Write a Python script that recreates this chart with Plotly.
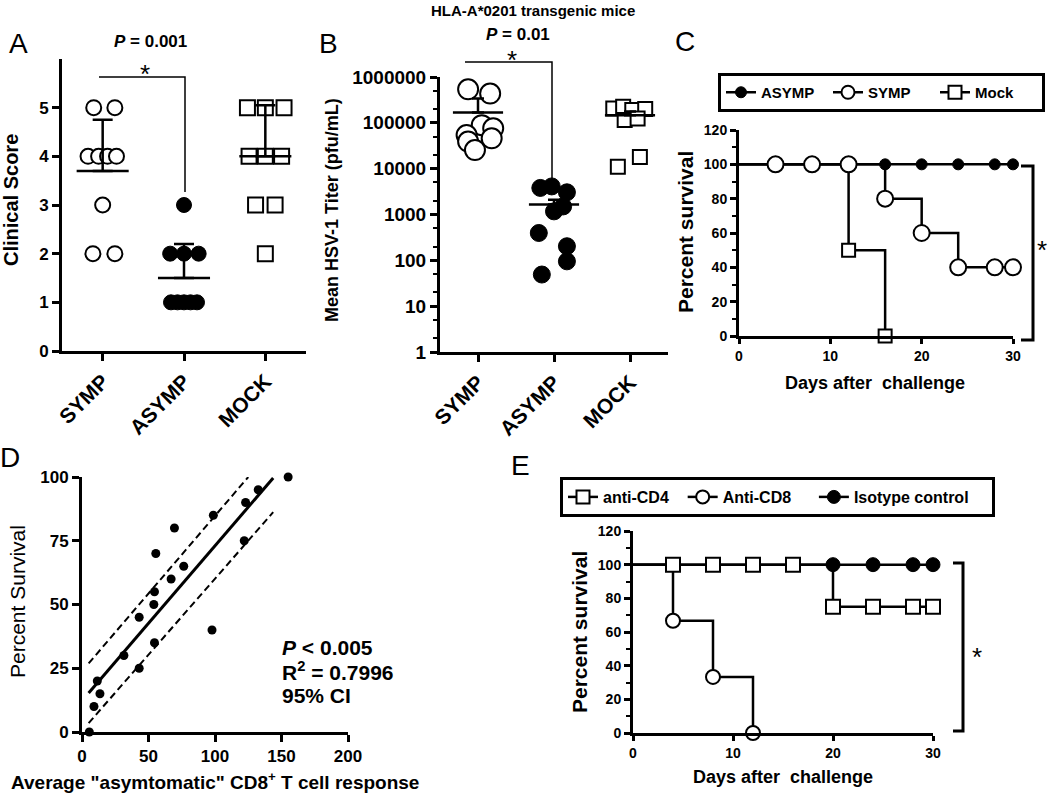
import plotly.graph_objects as go

FONT = "Liberation Sans, Arial, Helvetica, sans-serif"
W, H = 1050, 794

# ---------------- Panel A : clinical score ----------------
a_categories = ["SYMP", "ASYMP", "MOCK"]
a_symp_score = [5, 5, 4, 4, 4, 4, 3, 2, 2]
a_asymp_score = [3, 2, 2, 2, 1, 1, 1, 1, 1]
a_mock_score = [5, 5, 5, 4, 4, 4, 3, 3, 2]
a_mean = [3.7, 1.5, 4.0]
a_err_upper = [1.05, 0.7, 1.05]
a_yticks = [0, 1, 2, 3, 4, 5]

# ---------------- Panel B : HSV-1 titer ----------------
b_categories = ["SYMP", "ASYMP", "MOCK"]
b_symp_titer = [540000, 435000, 89000, 76000, 54000, 46000, 39000, 25500]
b_asymp_titer = [3800, 4100, 3050, 1500, 1170, 395, 203, 95, 49]
b_mock_titer = [205000, 225000, 190000, 200000, 115000, 125000, 11000, 18000]
b_mean = [168000, 1650, 147000]
b_err_upper = [172000, 450, 30000]
b_yticks = [1, 10, 100, 1000, 10000, 100000, 1000000]
b_yticktext = ["1", "10", "100", "1000", "10000", "100000", "1000000"]

# ---------------- Panel C : survival ----------------
c_asymp_curve_day = [0, 30]
c_asymp_curve_pct = [100, 100]
c_asymp_mark_day = [16, 20, 24, 28, 30]
c_asymp_mark_pct = [100, 100, 100, 100, 100]
c_symp_curve_day = [0, 16, 20, 24, 30]
c_symp_curve_pct = [100, 80, 60, 40, 40]
c_symp_mark_day = [4, 8, 12, 16, 20, 24, 28, 30]
c_symp_mark_pct = [100, 100, 100, 80, 60, 40, 40, 40]
c_mock_curve_day = [0, 12, 16]
c_mock_curve_pct = [100, 50, 0]
c_mock_mark_day = [12, 16]
c_mock_mark_pct = [50, 0]

# ---------------- Panel D : correlation ----------------
d_response = [155, 132.5, 123, 98.75, 69.5, 122, 55.5, 76.5, 67, 54.5,
              54, 43, 97.75, 54.5, 31.5, 43, 11.5, 13.5, 9, 5.5]
d_survival = [100, 95, 90, 85, 80, 75, 70, 65, 60, 55,
              50, 45, 40, 35, 30, 25, 20, 15, 10, 0]
d_fit_x = [5, 143.75]
d_fit_y = [15.3, 99.6]
d_ci_upper_x = [5, 125]
d_ci_upper_y = [26.9, 100]
d_ci_lower_x = [5, 143.75]
d_ci_lower_y = [3.5, 86.2]

# ---------------- Panel E : depletion survival ----------------
e_cd4_curve_day = [0, 20, 30]
e_cd4_curve_pct = [100, 75, 75]
e_cd4_mark_day = [4, 8, 12, 16, 20, 24, 28, 30]
e_cd4_mark_pct = [100, 100, 100, 100, 75, 75, 75, 75]
e_cd8_curve_day = [0, 4, 8, 12]
e_cd8_curve_pct = [100, 66.7, 33.3, 0]
e_cd8_mark_day = [4, 8, 12]
e_cd8_mark_pct = [66.7, 33.3, 0]
e_iso_curve_day = [0, 30]
e_iso_curve_pct = [100, 100]
e_iso_mark_day = [20, 24, 28, 30]
e_iso_mark_pct = [100, 100, 100, 100]

# jitter offsets (category units) used to spread the dot-plot points
a_symp_jit = [-0.11, 0.15, -0.18, -0.05, 0.06, 0.17, 0.0, -0.12, 0.15]
a_asymp_jit = [0.0, -0.17, 0.0, 0.18, -0.16, -0.08, 0.0, 0.08, 0.16]
a_mock_jit = [-0.22, 0.0, 0.23, -0.2, 0.0, 0.2, -0.12, 0.12, 0.0]
b_symp_jit = [-0.13, 0.16, 0.05, 0.2, -0.15, 0.18, -0.13, -0.04]
b_asymp_jit = [-0.18, -0.03, 0.17, 0.12, 0.0, -0.2, 0.17, 0.17, -0.16]
b_mock_jit = [-0.22, -0.09, 0.03, 0.2, -0.07, 0.1, -0.16, 0.13]

NB = "\u00a0"


def px(x):
    return x / W


def py(y):
    return 1 - y / H


fig = go.Figure()

OPEN = dict(color="white", line=dict(color="black", width=2))
FILLED = dict(color="black", line=dict(color="black", width=1))


def strip(xa, ya, idx, vals, jit, symbol, style, size):
    fig.add_trace(go.Scatter(
        x=[idx + j for j in jit], y=vals, mode="markers", xaxis=xa, yaxis=ya,
        marker=dict(symbol=symbol, size=size, **style), showlegend=False,
        cliponaxis=False, hoverinfo="skip"))


def mean_err(xa, ya, means, errs, hw, cap):
    for i, (m, e) in enumerate(zip(means, errs)):
        fig.add_trace(go.Scatter(
            x=[i - hw, i + hw], y=[m, m], mode="lines", xaxis=xa, yaxis=ya,
            line=dict(color="black", width=2.5), showlegend=False,
            cliponaxis=False, hoverinfo="skip"))
        fig.add_trace(go.Scatter(
            x=[i], y=[m], mode="markers", xaxis=xa, yaxis=ya,
            marker=dict(size=1, color="rgba(0,0,0,0)"),
            error_y=dict(type="data", symmetric=False, array=[e], arrayminus=[0],
                         color="black", thickness=2.5, width=cap),
            showlegend=False, cliponaxis=False, hoverinfo="skip"))


# Panel A
strip("x", "y", 0, a_symp_score, a_symp_jit, "circle", OPEN, 15)
strip("x", "y", 1, a_asymp_score, a_asymp_jit, "circle", FILLED, 15)
strip("x", "y", 2, a_mock_score, a_mock_jit, "square", OPEN, 15)
mean_err("x", "y", a_mean, a_err_upper, 0.32, 10)

# Panel B
strip("x2", "y2", 0, b_symp_titer, b_symp_jit, "circle", OPEN, 20)
strip("x2", "y2", 1, b_asymp_titer, b_asymp_jit, "circle", FILLED, 17)
strip("x2", "y2", 2, b_mock_titer, b_mock_jit, "square", OPEN, 14)
mean_err("x2", "y2", b_mean, b_err_upper, 0.33, 6)


def curve(xa, ya, d, p):
    fig.add_trace(go.Scatter(
        x=d, y=p, mode="lines", xaxis=xa, yaxis=ya,
        line=dict(shape="hv", color="black", width=2.5),
        showlegend=False, cliponaxis=False, hoverinfo="skip"))


def marks(xa, ya, d, p, symbol, style, size):
    fig.add_trace(go.Scatter(
        x=d, y=p, mode="markers", xaxis=xa, yaxis=ya,
        marker=dict(symbol=symbol, size=size, **style),
        showlegend=False, cliponaxis=False, hoverinfo="skip"))


def legend_entry(xa, ya, name, symbol, style, size, leg):
    fig.add_trace(go.Scatter(
        x=[None], y=[None], mode="lines+markers", name=name, xaxis=xa, yaxis=ya,
        marker=dict(symbol=symbol, size=size, **style),
        line=dict(color="black", width=2.5), legend=leg, hoverinfo="skip"))


# Panel C
curve("x3", "y3", c_mock_curve_day, c_mock_curve_pct)
curve("x3", "y3", c_symp_curve_day, c_symp_curve_pct)
curve("x3", "y3", c_asymp_curve_day, c_asymp_curve_pct)
marks("x3", "y3", c_mock_mark_day, c_mock_mark_pct, "square", OPEN, 13)
marks("x3", "y3", c_symp_mark_day, c_symp_mark_pct, "circle", OPEN, 16)
marks("x3", "y3", c_asymp_mark_day, c_asymp_mark_pct, "circle", FILLED, 11)
legend_entry("x3", "y3", "ASYMP", "circle", FILLED, 11, "legend")
legend_entry("x3", "y3", "SYMP", "circle", OPEN, 13, "legend")
legend_entry("x3", "y3", "Mock", "square", OPEN, 13, "legend")

# Panel D
fig.add_trace(go.Scatter(x=d_ci_upper_x, y=d_ci_upper_y, mode="lines", xaxis="x4", yaxis="y4",
                         line=dict(color="black", width=2, dash="7px,4px"), showlegend=False,
                         cliponaxis=False, hoverinfo="skip"))
fig.add_trace(go.Scatter(x=d_ci_lower_x, y=d_ci_lower_y, mode="lines", xaxis="x4", yaxis="y4",
                         line=dict(color="black", width=2, dash="7px,4px"), showlegend=False,
                         cliponaxis=False, hoverinfo="skip"))
fig.add_trace(go.Scatter(x=d_fit_x, y=d_fit_y, mode="lines", xaxis="x4", yaxis="y4",
                         line=dict(color="black", width=3), showlegend=False,
                         cliponaxis=False, hoverinfo="skip"))
fig.add_trace(go.Scatter(x=d_response, y=d_survival, mode="markers", xaxis="x4", yaxis="y4",
                         marker=dict(size=9, color="black"), showlegend=False,
                         cliponaxis=False, hoverinfo="skip"))

# Panel E
curve("x5", "y5", e_cd8_curve_day, e_cd8_curve_pct)
curve("x5", "y5", e_cd4_curve_day, e_cd4_curve_pct)
curve("x5", "y5", e_iso_curve_day, e_iso_curve_pct)
marks("x5", "y5", e_cd8_mark_day, e_cd8_mark_pct, "circle", OPEN, 14)
marks("x5", "y5", e_cd4_mark_day, e_cd4_mark_pct, "square", OPEN, 14)
marks("x5", "y5", e_iso_mark_day, e_iso_mark_pct, "circle", FILLED, 14)
legend_entry("x5", "y5", "anti-CD4" + NB * 2, "square", OPEN, 13, "legend2")
legend_entry("x5", "y5", "Anti-CD8" + NB * 4, "circle", OPEN, 13, "legend2")
legend_entry("x5", "y5", "Isotype control" + NB * 4, "circle", FILLED, 13, "legend2")


def ax(**kw):
    d = dict(showline=True, linecolor="black", linewidth=3, ticks="outside",
             tickcolor="black", tickwidth=2.5, ticklen=7, showgrid=False,
             zeroline=False, fixedrange=True, automargin=False,
             tickfont=dict(family=FONT, size=16, color="black", weight="bold"))
    tf = kw.pop("tfsize", None)
    if tf:
        d["tickfont"] = dict(family=FONT, size=tf, color="black", weight="bold")
    d.update(kw)
    return d


def minor_lin(dt):
    return dict(ticks="outside", dtick=dt, ticklen=4, tickwidth=2, tickcolor="black", showgrid=False)


fig.update_layout(
    width=W, height=H, margin=dict(l=0, r=0, t=0, b=0, autoexpand=False),
    paper_bgcolor="white", plot_bgcolor="white",
    font=dict(family=FONT, color="black"),
    xaxis=ax(domain=[px(62), px(306)], range=[-0.5, 2.5], tickvals=[0, 1, 2],
             ticktext=a_categories, tickangle=-45, anchor="y", tfsize=21),
    yaxis=ax(domain=[py(351), py(59)], range=[0, 6], tickvals=a_yticks, anchor="x", tfsize=17),
    xaxis2=ax(domain=[px(440), px(668)], range=[-0.5, 2.5], tickvals=[0, 1, 2],
              ticktext=b_categories, tickangle=-45, anchor="y2", tfsize=21),
    yaxis2=ax(domain=[py(352), py(77)], type="log", range=[0, 6], tickvals=b_yticks,
              ticktext=b_yticktext, anchor="x2", tfsize=19,
              minor=dict(ticks="outside", ticklen=4, tickwidth=1.5, tickcolor="black", showgrid=False)),
    xaxis3=ax(domain=[px(739), px(1013)], range=[0, 30], dtick=10, tick0=0, anchor="y3", tfsize=14,
              ticklen=5),
    yaxis3=ax(domain=[py(336), py(130)], range=[0, 120], dtick=20, tick0=0, anchor="x3", tfsize=14,
              ticklen=6, minor=minor_lin(10)),
    xaxis4=ax(domain=[px(82), px(348)], range=[0, 200], dtick=50, tick0=0, anchor="y4", tfsize=17),
    yaxis4=ax(domain=[py(732), py(477)], range=[0, 100], dtick=25, tick0=0, anchor="x4", tfsize=17),
    xaxis5=ax(domain=[px(633), px(933)], range=[0, 30], dtick=10, tick0=0, anchor="y5", tfsize=14,
              ticklen=5),
    yaxis5=ax(domain=[py(733), py(531)], range=[0, 120], dtick=20, tick0=0, anchor="x5", tfsize=14,
              ticklen=6, minor=minor_lin(10)),
    legend=dict(x=px(718), y=py(73), xanchor="left", yanchor="top", orientation="h",
                bordercolor="black", borderwidth=3, bgcolor="white",
                font=dict(family=FONT, size=15, color="black", weight="bold"),
                entrywidth=62, itemwidth=30),
    legend2=dict(x=px(560), y=py(477), xanchor="left", yanchor="top", orientation="h",
                 bordercolor="black", borderwidth=3, bgcolor="white",
                 font=dict(family=FONT, size=16, color="black", weight="bold"),
                 itemwidth=30),
)

annotations = []


def text(x, y, t, size, bold=True, angle=0, xanchor="center"):
    annotations.append(dict(
        x=px(x), y=py(y), xref="paper", yref="paper", text=t, showarrow=False,
        textangle=angle, xanchor=xanchor, yanchor="middle",
        font=dict(family=FONT, size=size, color="black", weight="bold" if bold else "normal")))


# panel letters
for lbl, x, y in [("A", 18, 43), ("B", 328, 43), ("C", 685, 42), ("D", 10, 458), ("E", 520, 466)]:
    text(x, y, lbl, 28, bold=False)

text(150, 42, "<i>P</i> = 0.001", 17)
text(145, 74, "*", 26, bold=False)
text(533, 11, "HLA-A*0201 transgenic mice", 15)
text(518, 34, "<i>P</i> = 0.01", 17)
text(512, 60, "*", 26, bold=False)
text(1042, 250, "*", 26, bold=False)
text(977, 657, "*", 26, bold=False)

text(280, 647, "<i>P</i> &lt; 0.005", 21, xanchor="left")
text(280, 671, "R<sup>2</sup> = 0.7996", 21, xanchor="left")
text(280, 695, "95% CI", 21, xanchor="left")

text(11, 200, "Clinical Score", 20, angle=-90)
text(332, 210, "Mean HSV-1 Titer (pfu/mL)", 18, angle=-90)
text(685, 232, "Percent survival", 21, angle=-90)
text(875, 383, "Days after  challenge", 18)
text(17, 602, "Percent Survival", 21, bold=False, angle=-90)
text(215, 781, "Average \"asymtomatic\" CD8<sup>+</sup> T cell response", 19)
text(579, 632, "Percent survival", 21, angle=-90)
text(783, 777, "Days after  challenge", 18)

fig.update_layout(annotations=annotations)

# significance brackets (pixel positions)
shapes = []


def path(points, width):
    d = "M " + " L ".join(f"{px(x)},{py(y)}" for x, y in points)
    shapes.append(dict(type="path", path=d, xref="paper", yref="paper",
                       line=dict(color="black", width=width)))


path([(99, 77), (185, 77), (185, 192)], 1.5)
path([(465, 62), (552, 62), (552, 180)], 1.5)
path([(1021, 166), (1033, 166), (1033, 340), (1021, 340)], 3)
path([(953, 563), (963, 563), (963, 731), (953, 731)], 3)

fig.update_layout(shapes=shapes)

fig.write_html("out.html", config={"displayModeBar": False},
               post_script="document.body.style.margin='0px';document.body.style.padding='0px';")
